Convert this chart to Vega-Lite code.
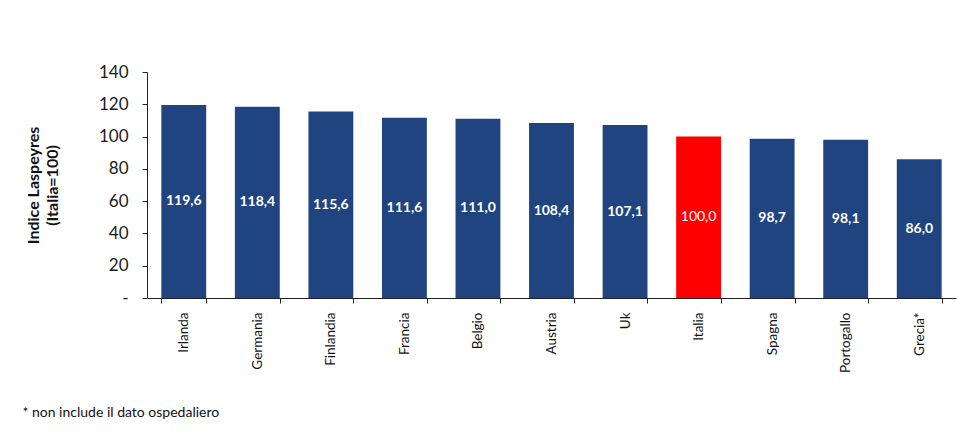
{
  "$schema": "https://vega.github.io/schema/vega-lite/v6.json",
  "width": 809,
  "height": 226,
  "autosize": {"type": "none"},
  "padding": {"left": 147, "top": 72, "right": 19, "bottom": 145},
  "background": "white",
  "config": {
    "view": {"stroke": null},
    "font": "Lato",
    "axisY": {
      "labelOverlap": false,
      "grid": false,
      "titleFontSize": 16,
      "titleFontWeight": "bold",
      "titleFont": "Lato",
      "titleColor": "#111111",
      "titlePadding": 38,
      "titleLineHeight": 19,
      "labelFontSize": 17,
      "labelFont": "Lato",
      "labelColor": "#1a1a1a",
      "labelPadding": 14,
      "tickColor": "#222222",
      "tickSize": 5,
      "domainColor": "#222222"
    }
  },
  "title": {
    "text": "* non include il dato ospedaliero",
    "orient": "bottom",
    "anchor": "start",
    "frame": "bounds",
    "fontSize": 14,
    "fontWeight": "normal",
    "color": "#111111",
    "font": "Lato",
    "offset": 33,
    "dx": -3
  },
  "data": {
    "values": [
      {"paese": "Irlanda", "indice": 119.6, "etichetta": "119,6", "gruppo": "altro"},
      {"paese": "Germania", "indice": 118.4, "etichetta": "118,4", "gruppo": "altro"},
      {"paese": "Finlandia", "indice": 115.6, "etichetta": "115,6", "gruppo": "altro"},
      {"paese": "Francia", "indice": 111.6, "etichetta": "111,6", "gruppo": "altro"},
      {"paese": "Belgio", "indice": 111.0, "etichetta": "111,0", "gruppo": "altro"},
      {"paese": "Austria", "indice": 108.4, "etichetta": "108,4", "gruppo": "altro"},
      {"paese": "Uk", "indice": 107.1, "etichetta": "107,1", "gruppo": "altro"},
      {"paese": "Italia", "indice": 100.0, "etichetta": "100,0", "gruppo": "Italia"},
      {"paese": "Spagna", "indice": 98.7, "etichetta": "98,7", "gruppo": "altro"},
      {"paese": "Portogallo", "indice": 98.1, "etichetta": "98,1", "gruppo": "altro"},
      {"paese": "Grecia*", "indice": 86.0, "etichetta": "86,0", "gruppo": "altro"}
    ]
  },
  "encoding": {
    "x": {
      "field": "paese",
      "type": "nominal",
      "sort": null,
      "scale": {"paddingInner": 0.39, "paddingOuter": 0.195},
      "axis": {
        "title": null,
        "labelAngle": -90,
        "labelAlign": "right",
        "labelBaseline": "middle",
        "labelFontSize": 13.5,
        "labelColor": "#111111",
        "labelFont": "Lato",
        "labelPadding": 9,
        "labelOverlap": false,
        "tickBand": "extent",
        "tickColor": "#222222",
        "tickSize": 5,
        "domainColor": "#222222"
      }
    }
  },
  "layer": [
    {
      "mark": {"type": "bar"},
      "encoding": {
        "y": {
          "field": "indice",
          "type": "quantitative",
          "scale": {"domain": [0, 140], "nice": false},
          "axis": {
            "values": [0, 20, 40, 60, 80, 100, 120, 140],
            "labelExpr": "datum.value == 0 ? '-' : datum.label",
            "title": ["Indice Laspeyres", "(Italia=100)"]
          }
        },
        "color": {
          "field": "gruppo",
          "type": "nominal",
          "scale": {"domain": ["altro", "Italia"], "range": ["#1F4480", "#FF0000"]},
          "legend": null
        }
      }
    },
    {
      "transform": [
        {"filter": "datum.gruppo != 'Italia'"},
        {"calculate": "datum.indice / 2", "as": "meta"}
      ],
      "mark": {"type": "text", "color": "white", "fontSize": 14, "font": "Lato", "fontWeight": "bold", "baseline": "middle"},
      "encoding": {
        "y": {
          "field": "meta",
          "type": "quantitative",
          "axis": {
            "values": [0, 20, 40, 60, 80, 100, 120, 140],
            "labelExpr": "datum.value == 0 ? '-' : datum.label",
            "title": ["Indice Laspeyres", "(Italia=100)"]
          }
        },
        "text": {"field": "etichetta"}
      }
    },
    {
      "transform": [
        {"filter": "datum.gruppo == 'Italia'"},
        {"calculate": "datum.indice / 2", "as": "meta"}
      ],
      "mark": {"type": "text", "color": "white", "fontSize": 14, "font": "Lato", "fontWeight": "normal", "baseline": "middle"},
      "encoding": {
        "y": {
          "field": "meta",
          "type": "quantitative",
          "axis": {
            "values": [0, 20, 40, 60, 80, 100, 120, 140],
            "labelExpr": "datum.value == 0 ? '-' : datum.label",
            "title": ["Indice Laspeyres", "(Italia=100)"]
          }
        },
        "text": {"field": "etichetta"}
      }
    }
  ]
}
